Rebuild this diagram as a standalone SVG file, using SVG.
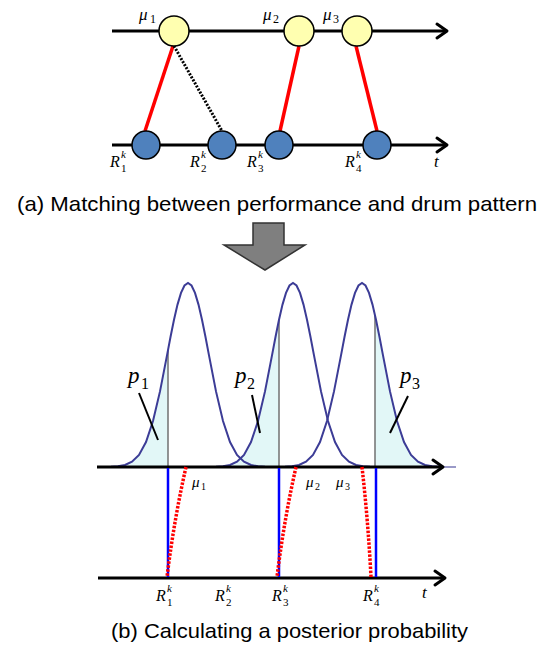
<svg xmlns="http://www.w3.org/2000/svg" xmlns:xlink="http://www.w3.org/1999/xlink" width="554" height="651" viewBox="0 0 554 651">
<style>
.axis{stroke:#000;stroke-width:3;fill:none}
.ah{stroke:#000;stroke-width:3;fill:none;stroke-linecap:round;stroke-linejoin:round}
.mu{fill:#ffffb0;stroke:#000;stroke-width:1.5}
.rk{fill:#4f81bd;stroke:#000;stroke-width:1.5}
.red{stroke:#ff0000;stroke-width:3.5;fill:none}
.dot{stroke:#000;stroke-width:3;stroke-dasharray:2 1.5;fill:none}
.rdot{stroke:#ff0000;stroke-width:3.5;stroke-dasharray:2.5 1.5;fill:none}
.blue{stroke:#0000ff;stroke-width:2.5}
.gauss{fill:none;stroke:#3c3c96;stroke-width:2}
.shade{fill:#e2f7f7;stroke:none}
.vl{stroke:#707070;stroke-width:1.5}
.lead{stroke:#000;stroke-width:2}
.it{font-family:"Liberation Serif","Times New Roman","DejaVu Serif",serif;font-style:italic;fill:#000}
.num{font-family:"Liberation Serif","Times New Roman","DejaVu Serif",serif;fill:#000}
.cap{font-family:"Liberation Sans",Arial,sans-serif;font-size:21px;fill:#000}
</style>
<defs>
<path id="g" d="M-77 466.8 L-70 466.3 L-63 465 L-56 461.7 L-49 454.9 L-42 442.1 L-35 421.1 L-28 391.4 L-21 355.4 L-17.5 337 L-14 319.7 L-10.5 304.6 L-7 292.9 L-3.5 285.5 L0 283 L3.5 285.5 L7 292.9 L10.5 304.6 L14 319.7 L17.5 337 L21 355.4 L28 391.4 L35 421.1 L42 442.1 L49 454.9 L56 461.7 L63 465 L70 466.3 L77 466.8"/>
<clipPath id="c1"><rect x="0" y="250" width="168" height="218"/></clipPath>
<clipPath id="c2"><rect x="0" y="250" width="279" height="218"/></clipPath>
<clipPath id="c3"><rect x="375" y="250" width="100" height="218"/></clipPath>
</defs>

<!-- (a) top part -->
<g id="axes-a">
<line class="axis" x1="112" y1="31" x2="446" y2="31"/>
<polyline class="ah" points="437,24 447,31 437,38"/>
<line class="axis" x1="112" y1="145" x2="446" y2="145"/>
<polyline class="ah" points="437,138 447,145 437,152"/>
</g>

<g id="connectors-a">
<line class="red" x1="173" y1="46" x2="145" y2="131"/>
<line class="dot" x1="174" y1="46" x2="222" y2="131"/>
<line class="red" x1="299" y1="46" x2="280" y2="131"/>
<line class="red" x1="356" y1="46" x2="377" y2="131"/>
</g>

<g id="mu1"><circle class="mu" cx="174" cy="31" r="15"/><text class="it" x="139" y="20" font-size="17">μ</text><text class="num" x="150" y="23" font-size="12">1</text></g>
<g id="mu2"><circle class="mu" cx="299" cy="31" r="15"/><text class="it" x="263" y="20" font-size="17">μ</text><text class="num" x="273" y="23" font-size="12">2</text></g>
<g id="mu3"><circle class="mu" cx="357" cy="31" r="15"/><text class="it" x="323" y="20" font-size="17">μ</text><text class="num" x="333" y="23" font-size="12">3</text></g>

<g id="R1"><circle class="rk" cx="146" cy="145" r="14"/><text class="it" x="110" y="167" font-size="16">R</text><text class="it" x="121" y="158" font-size="11">k</text><text class="num" x="121" y="172" font-size="11">1</text></g>
<g id="R2"><circle class="rk" cx="222" cy="145" r="14"/><text class="it" x="190" y="167" font-size="16">R</text><text class="it" x="201" y="158" font-size="11">k</text><text class="num" x="201" y="172" font-size="11">2</text></g>
<g id="R3"><circle class="rk" cx="279" cy="145" r="14"/><text class="it" x="247" y="167" font-size="16">R</text><text class="it" x="258" y="158" font-size="11">k</text><text class="num" x="258" y="172" font-size="11">3</text></g>
<g id="R4"><circle class="rk" cx="377" cy="145" r="14"/><text class="it" x="345" y="167" font-size="16">R</text><text class="it" x="356" y="158" font-size="11">k</text><text class="num" x="356" y="172" font-size="11">4</text></g>
<text class="it" x="434" y="167" font-size="17">t</text>

<text class="cap" x="17" y="211" textLength="520" lengthAdjust="spacingAndGlyphs">(a) Matching between performance and drum pattern</text>

<g id="down-arrow">
<polygon points="253,223 284,223 284,245 305,245 265,270 224,245 253,245" fill="#7f7f7f" stroke="#333" stroke-width="1.5" stroke-linejoin="miter"/>
</g>

<!-- (b) bottom part -->
<g id="shading">
<g clip-path="url(#c1)"><use href="#g" xlink:href="#g" x="188" class="shade"/></g>
<g clip-path="url(#c2)"><use href="#g" xlink:href="#g" x="293" class="shade"/></g>
<g clip-path="url(#c3)"><use href="#g" xlink:href="#g" x="362" class="shade"/></g>
</g>
<g id="vlines">
<line class="vl" x1="168" y1="467" x2="168" y2="350"/>
<line class="vl" x1="279" y1="467" x2="279" y2="320"/>
<line class="vl" x1="375" y1="467" x2="375" y2="315"/>
</g>
<g id="gaussians">
<use href="#g" xlink:href="#g" x="188" class="gauss"/>
<use href="#g" xlink:href="#g" x="293" class="gauss"/>
<use href="#g" xlink:href="#g" x="362" class="gauss"/>
</g>

<g id="axes-b">
<line x1="440" y1="467" x2="456" y2="467" stroke="#9a9ac8" stroke-width="2"/>
<line class="axis" x1="97" y1="467" x2="441" y2="467"/>
<polyline class="ah" points="433,460 443,467 433,474"/>
<line class="axis" x1="98" y1="578" x2="443" y2="578"/>
<polyline class="ah" points="435,571 445,578 435,585"/>
</g>

<g id="connectors-b">
<line class="blue" x1="168" y1="468" x2="168" y2="577"/>
<line class="blue" x1="279" y1="468" x2="279" y2="577"/>
<line class="blue" x1="376" y1="468" x2="376" y2="577"/>
<path class="rdot" d="M186 467 Q174 520 167 577"/>
<path class="rdot" d="M296 467 Q284 520 277 577"/>
<path class="rdot" d="M362 467 Q368 520 371 577"/>
</g>

<g id="p-labels">
<line class="lead" x1="139" y1="393" x2="158" y2="440"/>
<text class="it" x="128" y="383" font-size="23">p</text><text class="num" x="141" y="389" font-size="16">1</text>
<line class="lead" x1="252" y1="395" x2="260" y2="433"/>
<text class="it" x="235" y="383" font-size="23">p</text><text class="num" x="247" y="389" font-size="16">2</text>
<line class="lead" x1="408" y1="396" x2="390" y2="433"/>
<text class="it" x="400" y="383" font-size="23">p</text><text class="num" x="412" y="389" font-size="16">3</text>
</g>

<g id="mu-labels-b">
<text class="it" x="192" y="487" font-size="15">μ</text><text class="num" x="201" y="490" font-size="10">1</text>
<text class="it" x="306" y="487" font-size="15">μ</text><text class="num" x="315" y="490" font-size="10">2</text>
<text class="it" x="336" y="487" font-size="15">μ</text><text class="num" x="345" y="490" font-size="10">3</text>
</g>

<g id="R-labels-b">
<text class="it" x="156" y="601" font-size="16">R</text><text class="it" x="167" y="592" font-size="11">k</text><text class="num" x="167" y="606" font-size="11">1</text>
<text class="it" x="215" y="601" font-size="16">R</text><text class="it" x="226" y="592" font-size="11">k</text><text class="num" x="226" y="606" font-size="11">2</text>
<text class="it" x="272" y="601" font-size="16">R</text><text class="it" x="283" y="592" font-size="11">k</text><text class="num" x="283" y="606" font-size="11">3</text>
<text class="it" x="363" y="601" font-size="16">R</text><text class="it" x="374" y="592" font-size="11">k</text><text class="num" x="374" y="606" font-size="11">4</text>
<text class="it" x="422" y="598" font-size="17">t</text>
</g>

<text class="cap" x="111" y="638" textLength="357" lengthAdjust="spacingAndGlyphs">(b) Calculating a posterior probability</text>
</svg>
